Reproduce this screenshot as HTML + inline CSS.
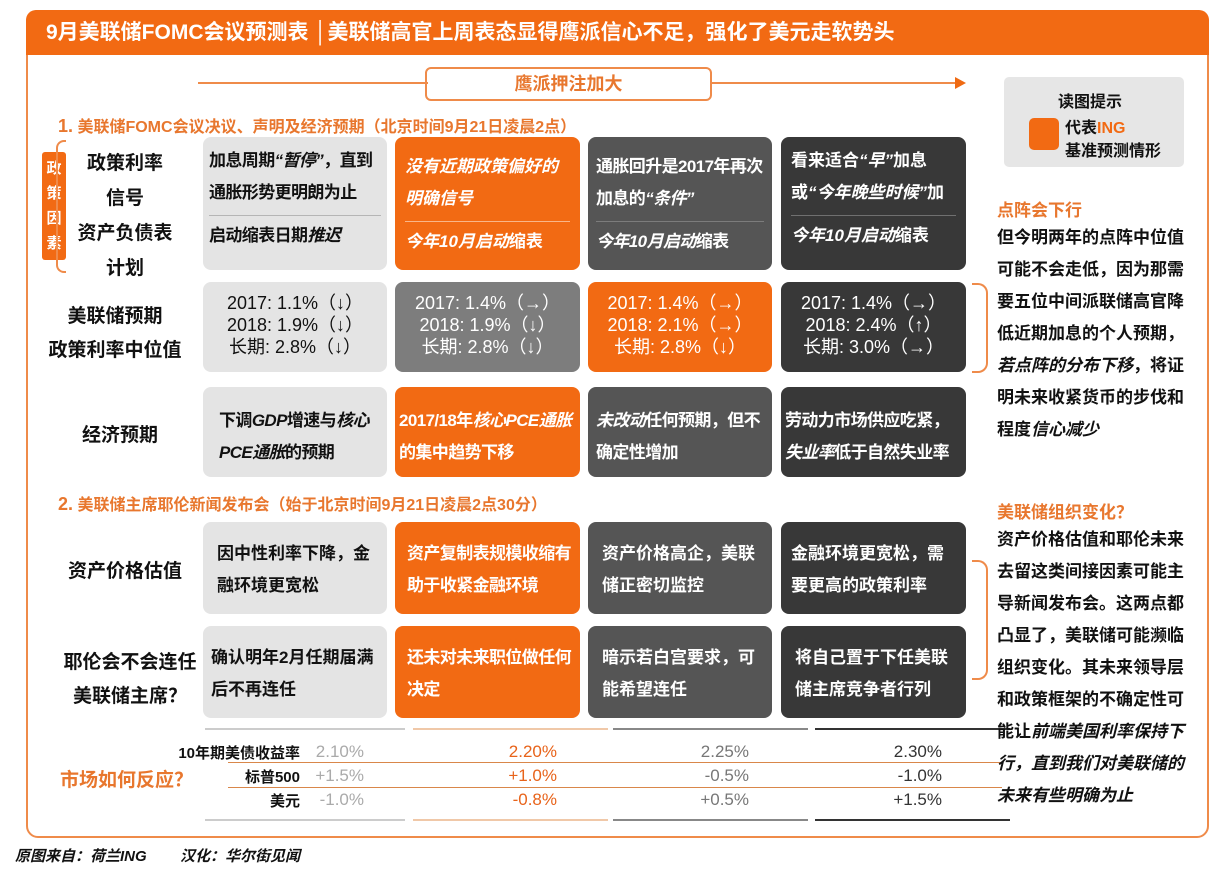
<!DOCTYPE html>
<html><head><meta charset="utf-8"><style>
*{margin:0;padding:0;box-sizing:border-box}
body{width:1229px;height:874px;background:#fff;position:relative;overflow:hidden;font-family:"Liberation Sans","Noto Sans CJK SC",sans-serif;font-weight:bold;color:#111}
.a{position:absolute}
.frame{left:26px;top:10px;width:1183px;height:828px;border:2px solid #ef8b4a;border-radius:12px;}
.hdr{left:26px;top:10px;width:1183px;height:45px;background:#f26a13;border-radius:10px 10px 0 0;color:#fff;font-size:21px;line-height:45px;padding-left:20px}
.c{position:absolute;border-radius:8px;font-size:17px;line-height:32px;padding:8px 10px}
.lg{background:#e4e4e4;color:#111}
.or{background:#f26a13;color:#fff}
.mg{background:#7d7d7d;color:#fff}
.dg{background:#555;color:#fff}
.bk{background:#383838;color:#fff}
.sep{border-top:1px solid rgba(150,150,150,.6);margin:6px 0 4px}
.lbl{position:absolute;font-size:19px;text-align:center;color:#111}
.oh{color:#e8772e;font-size:16px}
.num{font-weight:normal;font-size:18px;line-height:22px;text-align:center;padding-top:10px}
.rt{font-size:17px;line-height:32px}
i{font-style:italic}
.mk{position:absolute;font-size:17px;font-weight:normal;text-align:right}
.t{letter-spacing:-0.6px}
</style></head><body>
<div class="a frame"></div>
<div class="a hdr">9月美联储FOMC会议预测表 │美联储高官上周表态显得鹰派信心不足，强化了美元走软势头</div>
<div class="a" style="left:198px;top:82px;width:230px;height:2px;background:#ef8b4a"></div>
<div class="a" style="left:710px;top:82px;width:250px;height:2px;background:#ef8b4a"></div>
<div class="a" style="left:955px;top:77px;width:0;height:0;border-left:11px solid #ef6a13;border-top:6px solid transparent;border-bottom:6px solid transparent"></div>
<div class="a" style="left:425px;top:67px;width:287px;height:34px;border:2px solid #ef8b4a;border-radius:6px;color:#e8772e;text-align:center;line-height:30px;font-size:18px">鹰派押注加大</div>
<div class="a oh" style="left:58px;top:113px"><span style="font-size:18px">1.</span>&nbsp;美联储FOMC会议决议、声明及经济预期（北京时间9月21日凌晨2点）</div>
<div class="a" style="left:42px;top:152px;width:24px;height:108px;background:#f26a13;color:#fff;font-size:15px;line-height:25px;text-align:center;border-radius:3px;padding-top:4px">政<br>策<br>因<br>素</div>
<div class="a" style="left:56px;top:140px;width:10px;height:133px;border:2px solid #ef8b4a;border-right:none;border-radius:8px 0 0 8px"></div>
<div class="lbl" style="left:70px;top:146px;width:110px;line-height:35px;font-size:19px">政策利率<br>信号<br>资产负债表<br>计划</div>
<div class="lbl" style="left:40px;top:300px;width:150px;line-height:34px;font-size:19px">美联储预期<br>政策利率中位值</div>
<div class="lbl" style="left:60px;top:420px;width:120px;font-size:19px">经济预期</div>
<div class="a oh" style="left:58px;top:491px"><span style="font-size:18px">2.</span>&nbsp;美联储主席耶伦新闻发布会（始于北京时间9月21日凌晨2点30分）</div>
<div class="lbl" style="left:50px;top:556px;width:150px;font-size:19px">资产价格估值</div>
<div class="lbl" style="left:50px;top:646px;width:160px;line-height:34px;font-size:19px">耶伦会不会连任<br>美联储主席？</div>

<div class="c lg t" style="left:203px;top:137px;width:184px;height:133px;padding:8px 6px">加息周期<i>“暂停”</i>，直到通胀形势更明朗为止<div class="sep"></div>启动缩表日期<i>推迟</i></div>
<div class="c or" style="left:395px;top:137px;width:185px;height:133px;padding-top:14px"><i>没有近期政策偏好的明确信号</i><div class="sep" style="border-color:rgba(255,255,255,.5)"></div><i>今年10月启动</i>缩表</div>
<div class="c dg t" style="left:588px;top:137px;width:184px;height:133px;padding:14px 8px 8px">通胀回升是2017年再次加息的<i>“条件”</i><div class="sep"></div><i>今年10月启动</i>缩表</div>
<div class="c bk" style="left:781px;top:137px;width:185px;height:133px">看来适合<i>“早”</i>加息或<i>“今年晚些时候”</i>加<div class="sep"></div><i>今年10月启动</i>缩表</div>

<div class="c lg num" style="left:203px;top:282px;width:184px;height:90px">2017: 1.1%（↓）<br>2018: 1.9%（↓）<br>长期: 2.8%（↓）</div>
<div class="c mg num" style="left:395px;top:282px;width:185px;height:90px">2017: 1.4%（→）<br>2018: 1.9%（↓）<br>长期: 2.8%（↓）</div>
<div class="c or num" style="left:588px;top:282px;width:184px;height:90px">2017: 1.4%（→）<br>2018: 2.1%（→）<br>长期: 2.8%（↓）</div>
<div class="c bk num" style="left:781px;top:282px;width:185px;height:90px">2017: 1.4%（→）<br>2018: 2.4%（↑）<br>长期: 3.0%（→）</div>

<div class="c lg t" style="left:203px;top:387px;width:184px;height:90px;padding:18px 6px 8px 16px">下调<i>GDP</i>增速与<i>核心PCE通胀</i>的预期</div>
<div class="c or t" style="left:395px;top:387px;width:185px;height:90px;padding:18px 4px">2017/18年<i>核心PCE通胀</i>的集中趋势下移</div>
<div class="c dg t" style="left:588px;top:387px;width:184px;height:90px;padding:18px 4px 8px 8px"><i>未改动</i>任何预期，但不确定性增加</div>
<div class="c bk t" style="left:781px;top:387px;width:185px;height:90px;padding:18px 4px">劳动力市场供应吃紧，<i>失业率</i>低于自然失业率</div>

<div class="c lg" style="left:203px;top:522px;width:184px;height:92px;padding:16px 14px">因中性利率下降，金融环境更宽松</div>
<div class="c or t" style="left:395px;top:522px;width:185px;height:92px;padding:16px 8px 8px 12px">资产复制表规模收缩有助于收紧金融环境</div>
<div class="c dg" style="left:588px;top:522px;width:184px;height:92px;padding:16px 14px">资产价格高企，美联储正密切监控</div>
<div class="c bk" style="left:781px;top:522px;width:185px;height:92px;padding:16px 10px">金融环境更宽松，需要更高的政策利率</div>

<div class="c lg" style="left:203px;top:626px;width:184px;height:92px;padding:16px 8px">确认明年2月任期届满后不再连任</div>
<div class="c or t" style="left:395px;top:626px;width:185px;height:92px;padding:16px 8px 8px 12px">还未对未来职位做任何决定</div>
<div class="c dg" style="left:588px;top:626px;width:184px;height:92px;padding:16px 14px">暗示若白宫要求，可能希望连任</div>
<div class="c bk" style="left:781px;top:626px;width:185px;height:92px;padding:16px 14px">将自己置于下任美联储主席竞争者行列</div>

<div class="a" style="left:205px;top:728px;width:200px;height:2px;background:#ccc"></div>
<div class="a" style="left:413px;top:728px;width:195px;height:2px;background:#f0c8a8"></div>
<div class="a" style="left:613px;top:728px;width:195px;height:2px;background:#888"></div>
<div class="a" style="left:815px;top:728px;width:195px;height:2px;background:#333"></div>
<div class="a" style="left:205px;top:819px;width:200px;height:2px;background:#ccc"></div>
<div class="a" style="left:413px;top:819px;width:195px;height:2px;background:#f0c8a8"></div>
<div class="a" style="left:613px;top:819px;width:195px;height:2px;background:#888"></div>
<div class="a" style="left:815px;top:819px;width:195px;height:2px;background:#333"></div>
<div class="a" style="left:228px;top:762px;width:774px;height:1px;background:#d9874a"></div>
<div class="a" style="left:228px;top:787px;width:774px;height:1px;background:#d9874a"></div>
<div class="a" style="left:60px;top:765px;color:#e8772e;font-size:19px">市场如何反应？</div>
<div class="a" style="left:100px;top:742px;width:200px;text-align:right;font-size:15px">10年期美债收益率</div>
<div class="a" style="left:100px;top:766px;width:200px;text-align:right;font-size:15px">标普500</div>
<div class="a" style="left:100px;top:790px;width:200px;text-align:right;font-size:15px">美元</div>
<div class="mk" style="left:300px;top:742px;width:64px;color:#aaa">2.10%</div>
<div class="mk" style="left:300px;top:766px;width:64px;color:#aaa">+1.5%</div>
<div class="mk" style="left:300px;top:790px;width:64px;color:#aaa">-1.0%</div>
<div class="mk" style="left:480px;top:742px;width:77px;color:#e8631a">2.20%</div>
<div class="mk" style="left:480px;top:766px;width:77px;color:#e8631a">+1.0%</div>
<div class="mk" style="left:480px;top:790px;width:77px;color:#e8631a">-0.8%</div>
<div class="mk" style="left:680px;top:742px;width:69px;color:#777">2.25%</div>
<div class="mk" style="left:680px;top:766px;width:69px;color:#777">-0.5%</div>
<div class="mk" style="left:680px;top:790px;width:69px;color:#777">+0.5%</div>
<div class="mk" style="left:870px;top:742px;width:72px;color:#333">2.30%</div>
<div class="mk" style="left:870px;top:766px;width:72px;color:#333">-1.0%</div>
<div class="mk" style="left:870px;top:790px;width:72px;color:#333">+1.5%</div>

<div class="a" style="left:1004px;top:77px;width:180px;height:90px;background:#e6e6e6;border-radius:5px"></div>
<div class="a" style="left:1058px;top:88px;font-size:16px">读图提示</div>
<div class="a" style="left:1029px;top:118px;width:30px;height:32px;background:#f26a13;border-radius:5px"></div>
<div class="a" style="left:1065px;top:117px;font-size:16px;line-height:23px">代表<span style="color:#f26a13">ING</span><br>基准预测情形</div>
<div class="a oh" style="left:997px;top:196px;font-size:17px">点阵会下行</div>
<div class="a rt" style="left:997px;top:222px;width:192px">但今明两年的点阵中位值可能不会走低，因为那需要五位中间派联储高官降低近期加息的个人预期，<i>若点阵的分布下移</i>，将证明未来收紧货币的步伐和程度<i>信心减少</i></div>
<div class="a" style="left:972px;top:283px;width:16px;height:90px;border:2px solid #ef8b4a;border-left:none;border-radius:0 10px 10px 0"></div>
<div class="a oh" style="left:997px;top:498px;font-size:17px">美联储组织变化？</div>
<div class="a rt" style="left:997px;top:524px;width:192px">资产价格估值和耶伦未来去留这类间接因素可能主导新闻发布会。这两点都凸显了，美联储可能濒临组织变化。其未来领导层和政策框架的不确定性可能让<i>前端美国利率保持下行，直到我们对美联储的未来有些明确为止</i></div>
<div class="a" style="left:972px;top:560px;width:16px;height:120px;border:2px solid #ef8b4a;border-left:none;border-radius:0 10px 10px 0"></div>
<div class="a" style="left:15px;top:845px;font-size:15px"><i>原图来自：荷兰ING&nbsp;&nbsp;&nbsp;&nbsp;&nbsp;&nbsp;&nbsp;&nbsp;汉化：华尔街见闻</i></div>
</body></html>
